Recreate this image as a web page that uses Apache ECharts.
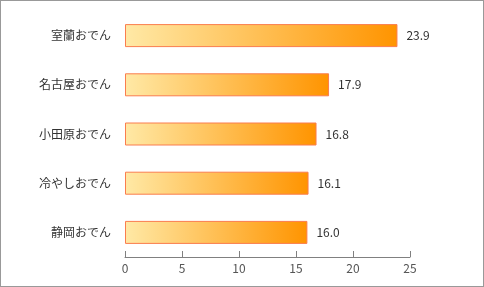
<!DOCTYPE html>
<html><head><meta charset="utf-8">
<script src="https://cdn.jsdelivr.net/npm/echarts@6/dist/echarts.min.js"></script>
<style>html,body{margin:0;padding:0;background:#fff}#c{width:484px;height:287px;box-sizing:border-box;border:1px solid #999}</style>
</head><body><div id="c"></div>
<script>
const categories = ['静岡おでん','冷やしおでん','小田原おでん','名古屋おでん','室蘭おでん'];
const values = [16.0, 16.1, 16.8, 17.9, 23.9];
const ticks = [0, 5, 10, 15, 20, 25];
const chart = echarts.init(document.getElementById('c'));
const font = '"Noto Sans CJK JP", sans-serif';
chart.setOption({
  animation: false,
  grid: {left: 124, right: 73, top: 10, bottom: 29, containLabel: false},
  xAxis: {type: 'value', min: ticks[0], max: ticks[ticks.length-1], interval: 5,
    axisLine: {show: true, lineStyle: {color: '#808080'}},
    axisTick: {show: true, inside: true, length: 6, lineStyle: {color: '#808080'}},
    splitLine: {show: false},
    axisLabel: {color: '#555', fontSize: 12, fontFamily: font, margin: 5}},
  yAxis: {type: 'category', data: categories,
    axisLine: {show: false}, axisTick: {show: false},
    axisLabel: {color: '#333', fontSize: 12, fontFamily: font, margin: 14}},
  series: [{type: 'bar', data: values, barWidth: 23,
    itemStyle: {
      color: new echarts.graphic.LinearGradient(0, 0, 1, 0, [{offset: 0, color: '#FFE9A6'}, {offset: 1, color: '#FF9400'}]),
      borderColor: '#FA7D4E', borderWidth: 1},
    label: {show: true, position: 'right', distance: 9, color: '#333', fontSize: 12, fontFamily: font,
      formatter: p => p.value.toFixed(1)}}]
});
</script></body></html>
